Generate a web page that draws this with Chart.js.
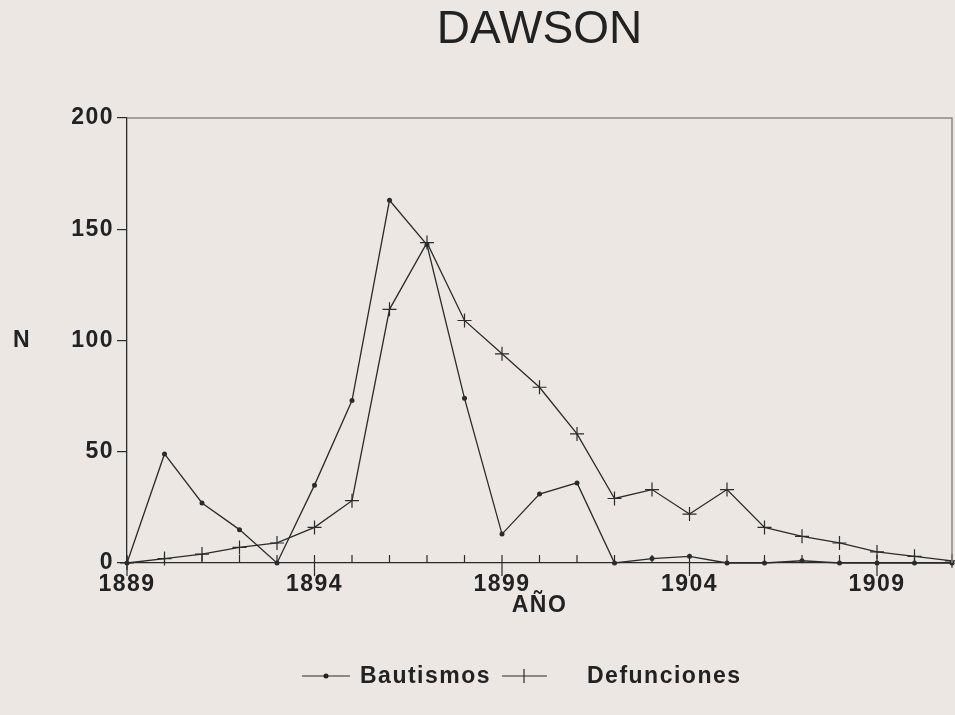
<!DOCTYPE html>
<html>
<head>
<meta charset="utf-8">
<script src="https://cdn.jsdelivr.net/npm/chart.js@4.4.0/dist/chart.umd.min.js"></script>
<style>
  html, body { margin: 0; padding: 0; background: #ece7e2; }
  #wrap { width: 955px; height: 715px; }
</style>
</head>
<body>
<div id="wrap"><canvas id="chart" width="955" height="715"></canvas></div>
<script>
const years = [1889, 1890, 1891, 1892, 1893, 1894, 1895, 1896, 1897, 1898, 1899, 1900,
  1901, 1902, 1903, 1904, 1905, 1906, 1907, 1908, 1909, 1910, 1911];
const bautismos = [0, 49, 27, 15, 0, 35, 73, 163, 143, 74, 13, 31, 36, 0, 2, 3, 0, 0, 1, 0, 0, 0, 0];
const defunciones = [0, 2, 4, 7, 9, 16, 28, 114, 144, 109, 94, 79, 58, 29, 33, 22, 33, 16, 12, 9, 5, 3, 1];
const yTicks = [0, 50, 100, 150, 200];

const ink = "#2b2b2b";
const labelFont = { family: "Liberation Sans, Arial, sans-serif", size: 23, weight: "bold" };

// wider letter spacing like the printed labels
const spacing = {
  id: "spacing",
  beforeDraw(chart) { chart.ctx.letterSpacing = "1.5px"; }
};

// axis ticks inside the frame, long ones every 5 years, plus title / N / AÑO / legend
const decor = {
  id: "decor",
  afterDraw(chart) {
    const ctx = chart.ctx;
    const area = chart.chartArea;
    const x = chart.scales.x;
    ctx.save();
    ctx.strokeStyle = ink;
    ctx.lineWidth = 1.2;
    years.forEach((yr, i) => {
      const px = x.getPixelForValue(i);
      const major = (yr - 1889) % 5 === 0;
      ctx.beginPath();
      ctx.moveTo(px, area.bottom - 8);
      ctx.lineTo(px, major ? area.bottom + 13 : area.bottom);
      ctx.stroke();
    });

    // frame top and right
    ctx.strokeStyle = "#8a8a86";
    ctx.lineWidth = 1.5;
    ctx.beginPath();
    ctx.moveTo(area.left, area.top);
    ctx.lineTo(area.right, area.top);
    ctx.lineTo(area.right, area.bottom);
    ctx.stroke();

    ctx.fillStyle = "#222";
    ctx.textAlign = "center";
    ctx.textBaseline = "middle";
    ctx.letterSpacing = "0px";
    ctx.font = "46px 'Liberation Sans', Arial, sans-serif";
    ctx.fillText("DAWSON", (area.left + area.right) / 2, 30);

    ctx.letterSpacing = "1.5px";
    ctx.font = "bold 23px 'Liberation Sans', Arial, sans-serif";
    ctx.fillText("N", 22, chart.scales.y.getPixelForValue(100));
    ctx.fillText("AÑO", (area.left + area.right) / 2, 606);

    // legend
    const ly = 676;
    ctx.strokeStyle = ink;
    ctx.lineWidth = 1.2;
    ctx.beginPath();
    ctx.moveTo(302, ly); ctx.lineTo(350, ly);
    ctx.moveTo(502, ly); ctx.lineTo(547, ly);
    ctx.moveTo(524, ly - 7); ctx.lineTo(524, ly + 7);
    ctx.stroke();
    ctx.beginPath();
    ctx.arc(326, ly, 2.5, 0, Math.PI * 2);
    ctx.fill();
    ctx.textAlign = "left";
    ctx.fillText("Bautismos", 360, ly + 1);
    ctx.fillText("Defunciones", 587, ly + 1);
    ctx.restore();
  }
};

new Chart(document.getElementById("chart"), {
  type: "line",
  data: {
    labels: years,
    datasets: [
      {
        label: "Bautismos",
        data: bautismos,
        borderColor: ink,
        backgroundColor: ink,
        borderWidth: 1.3,
        pointStyle: "circle",
        pointRadius: 2.5,
        pointBorderWidth: 0,
        tension: 0,
        clip: false
      },
      {
        label: "Defunciones",
        data: defunciones,
        borderColor: ink,
        backgroundColor: ink,
        borderWidth: 1.3,
        pointStyle: "cross",
        pointRadius: 7,
        pointBorderWidth: 1.2,
        tension: 0,
        clip: false
      }
    ]
  },
  options: {
    responsive: false,
    animation: false,
    layout: { autoPadding: false, padding: { top: 118, right: 3, left: 0, bottom: 0 } },
    plugins: {
      legend: { display: false },
      title: { display: false },
      tooltip: { enabled: false }
    },
    scales: {
      x: {
        type: "category",
        offset: false,
        grid: { display: false, drawTicks: false },
        border: { display: true, color: ink, width: 1.3 },
        ticks: {
          autoSkip: false,
          maxRotation: 0,
          padding: 8,
          color: "#222",
          font: labelFont,
          callback(v, i) { return (years[i] - 1889) % 5 === 0 ? String(years[i]) : ""; }
        },
        afterFit(s) { s.height = 152; s.paddingLeft = 0; s.paddingRight = 0; }
      },
      y: {
        min: 0,
        max: 200,
        afterBuildTicks(s) { s.ticks = yTicks.map(v => ({ value: v })); },
        grid: { drawOnChartArea: false, drawTicks: true, tickLength: 10, color: ink, lineWidth: 1.2 },
        border: { display: true, color: ink, width: 1.3 },
        ticks: { padding: 3, color: "#222", font: labelFont },
        afterFit(s) { s.width = 127; }
      }
    }
  },
  plugins: [spacing, decor]
});
</script>
</body>
</html>
